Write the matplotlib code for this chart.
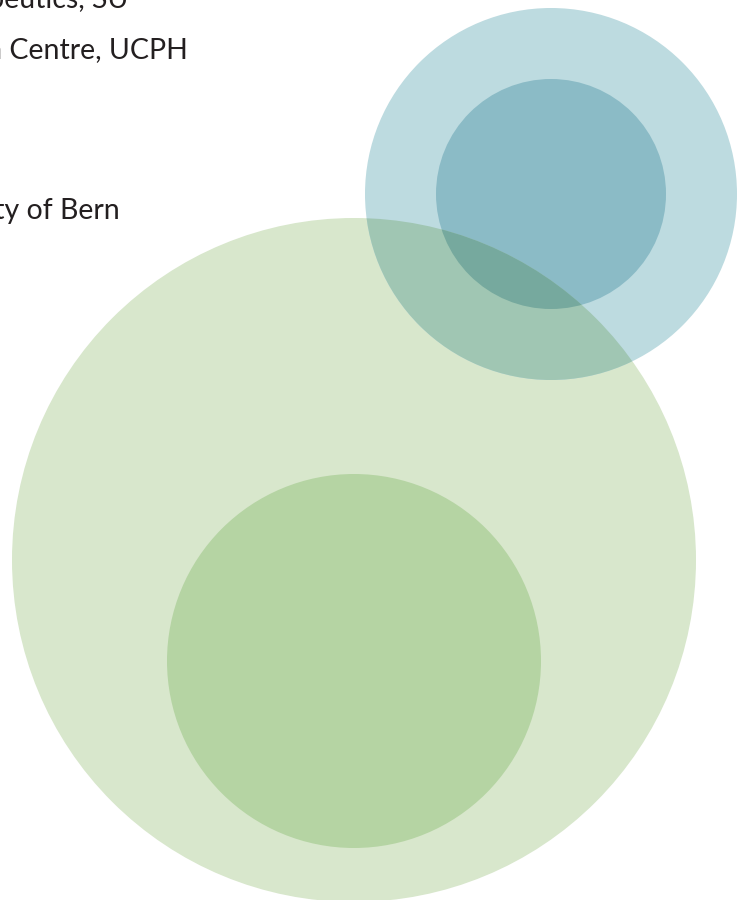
import numpy as np
import matplotlib.pyplot as plt
from matplotlib.patches import Circle
from matplotlib.colors import to_rgb

# circles, in pixel units of the 751x900 canvas
green_names = ["green outer", "green inner"]
green_x = [354, 354]
green_y = [560, 661]
green_r = [342, 187]
green_col = ["#d8e7cc", "#b5d4a3"]

blue_names = ["blue outer", "blue inner"]
blue_x = [551, 551]
blue_y = [194, 194]
blue_r = [186, 115]
blue_col = ["#bddbe0", "#8bbbc6"]

labels = ["Department of Therapeutics, SU",
          "Biotech Research and Innovation Centre, UCPH",
          "University of Bern"]
label_end = [128, 188, 120]
label_base = [8, 58, 219]


def multiply(c1, c2):
    return tuple(np.array(to_rgb(c1)) * np.array(to_rgb(c2)))


fig = plt.figure(figsize=(7.51, 9), dpi=100)
ax = fig.add_axes([0, 0, 1, 1])
ax.set_xlim(0, 751)
ax.set_ylim(900, 0)
ax.set_aspect("equal")
ax.axis("off")

for x, y, r, c in zip(green_x, green_y, green_r, green_col):
    ax.add_patch(Circle((x, y), r, color=c, lw=0, zorder=1))

for x, y, r, c in zip(blue_x, blue_y, blue_r, blue_col):
    ax.add_patch(Circle((x, y), r, color=c, lw=0, zorder=2))

# multiply-blend where the blue circles cross the big green one
clip = Circle((green_x[0], green_y[0]), green_r[0], transform=ax.transData)
for x, y, r, c in zip(blue_x, blue_y, blue_r, blue_col):
    p = Circle((x, y), r, color=multiply(c, green_col[0]), lw=0, zorder=3)
    ax.add_patch(p)
    p.set_clip_path(clip)

for t, xe, yb in zip(labels, label_end, label_base):
    ax.text(xe, yb, t, ha="right", va="baseline", fontsize=20.5,
            family="Lato", color="#231f20", zorder=5)

fig.savefig("out.png", dpi=100)
